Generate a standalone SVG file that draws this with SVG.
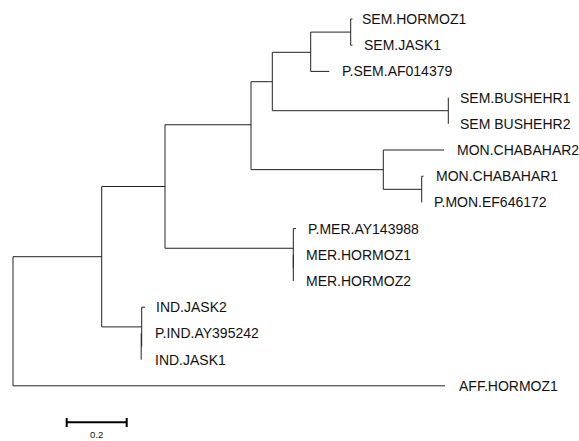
<svg xmlns="http://www.w3.org/2000/svg" width="579" height="441" viewBox="0 0 579 441">
<style>
.br{fill:none;stroke:#222;stroke-width:1}
.lb{font-family:"Liberation Sans",Arial,sans-serif;font-size:14px;fill:#111}
.sc{fill:none;stroke:#000;stroke-width:2}
.st{font-family:"Liberation Sans",Arial,sans-serif;font-size:9.5px;fill:#111;text-anchor:middle}
</style>
<rect width="579" height="441" fill="#fff"/>
<g id="connectors" class="br">
<path d="M13,256.7V385.8M13,385.8H445M13,256.7H101.7"/>
<path d="M101.7,186.5V326.9M101.7,186.5H165"/>
<path d="M165,124.75V248.25M165,124.75H251"/>
<path d="M251,81.7V169.65M251,81.7H272.3"/>
<path d="M272.3,52.3V110.7M272.3,52.3H310.7"/>
<path d="M310.7,32.1V71.4M310.7,71.4H329.3M310.7,32.1H350.7"/>
<path d="M350.7,19V45.2M350.7,19H352.5M350.7,45.2H352.5"/>
<path d="M272.3,110.7H448.3M448.3,97.6V123.8"/>
<path d="M251,169.65H383.3M383.3,150V189.3M383.3,150H444M383.3,189.3H421.7M421.7,176.2V202.4M421.7,176.2H423.5"/>
<path d="M165,248.25H293.3M293.3,228.6V267.9M293.3,228.6H296M293.3,254.8V281"/>
<path d="M101.7,326.9H141.7M141.7,307.2V346.5M141.7,307.2H145M141.2,333.4V359.6"/>
</g>
<g id="leaf-sem-hormoz1"><text class="lb" x="362" y="24">SEM.HORMOZ1</text></g>
<g id="leaf-sem-jask1"><text class="lb" x="364" y="50.2">SEM.JASK1</text></g>
<g id="leaf-p-sem"><text class="lb" x="342" y="76.4">P.SEM.AF014379</text></g>
<g id="leaf-sem-bushehr1"><text class="lb" x="460" y="102.6">SEM.BUSHEHR1</text></g>
<g id="leaf-sem-bushehr2"><text class="lb" x="460" y="128.8">SEM BUSHEHR2</text></g>
<g id="leaf-mon-chabahar2"><text class="lb" x="457" y="155">MON.CHABAHAR2</text></g>
<g id="leaf-mon-chabahar1"><text class="lb" x="436" y="181.2">MON.CHABAHAR1</text></g>
<g id="leaf-p-mon"><text class="lb" x="434" y="207.4">P.MON.EF646172</text></g>
<g id="leaf-p-mer"><text class="lb" x="308" y="233.6">P.MER.AY143988</text></g>
<g id="leaf-mer-hormoz1"><text class="lb" x="306" y="259.8">MER.HORMOZ1</text></g>
<g id="leaf-mer-hormoz2"><text class="lb" x="306" y="286">MER.HORMOZ2</text></g>
<g id="leaf-ind-jask2"><text class="lb" x="156" y="312.2">IND.JASK2</text></g>
<g id="leaf-p-ind"><text class="lb" x="155" y="338.4">P.IND.AY395242</text></g>
<g id="leaf-ind-jask1"><text class="lb" x="155" y="364.6">IND.JASK1</text></g>
<g id="leaf-aff-hormoz1"><text class="lb" x="459" y="390.8">AFF.HORMOZ1</text></g>
<g id="scale-bar">
<path class="sc" d="M66.7,422.3H126.7M66.7,418V427M126.7,418V427"/>
<text class="st" x="96.7" y="438">0.2</text>
</g>
</svg>
